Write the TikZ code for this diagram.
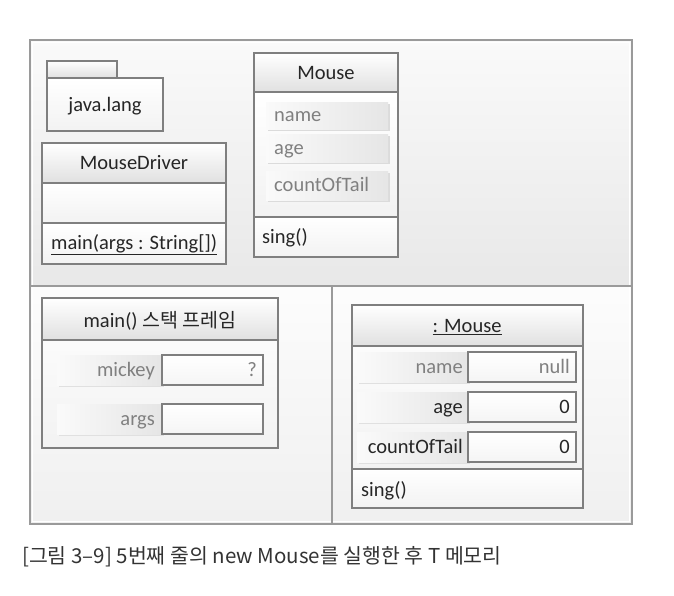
\documentclass[tikz,border=0pt]{standalone}
\usepackage{fontspec}
\setmainfont{Carlito}
\newfontfamily\kr{Noto Sans CJK KR}
\usetikzlibrary{positioning}
\definecolor{edge}{HTML}{7F7F7F}
\definecolor{frameedge}{HTML}{9A9A9A}
\definecolor{lbl}{HTML}{808080}
\definecolor{txt}{HTML}{262626}
\definecolor{cap}{HTML}{333333}
\tikzset{
  umltext/.style={inner sep=0pt, text=txt, font=\fontsize{20.5}{24}\selectfont},
  graytext/.style={umltext, text=lbl},
  boxline/.style={draw=edge, line width=1.1pt},
  headfill/.style={top color=white, bottom color=black!12},
  bodyfill/.style={top color=white, bottom color=black!5},
  pillfill/.style={left color=black!2, right color=black!10},
  valfill/.style={top color=white, bottom color=black!4},
}
\begin{document}
\begin{tikzpicture}[x=1pt,y=-1pt]
\useasboundingbox (0,0) rectangle (674,596);
\fill[white] (0,0) rectangle (674,596);
% outer frame sections
\shade[top color=black!2, bottom color=black!9] (30,40) rectangle (632,286);
\shade[top color=black!1, bottom color=black!6] (30,286) rectangle (332,524);
\shade[top color=black!1, bottom color=black!6] (332,286) rectangle (632,524);
\draw[white, line width=1pt] (32.5,42.5) rectangle (629.5,521.5);
\draw[frameedge, line width=1.2pt] (30,40) rectangle (632,524);
\draw[frameedge, line width=1.2pt] (30,286) -- (632,286);
\draw[frameedge, line width=1.2pt] (332,286) -- (332,524);

% java.lang package
\path[boxline, headfill] (47,61) rectangle (117,78);
\path[boxline, bodyfill] (47,78) rectangle (163,131);
\node[umltext, anchor=base] (javalang) at (105,112) {java.lang};

% MouseDriver class
\path[boxline, headfill] (42,143) rectangle (226,183);
\path[boxline, bodyfill] (42,183) rectangle (226,223);
\path[boxline, bodyfill] (42,223) rectangle (226,264);
\node[umltext, anchor=base] (mdname) at (134,170) {MouseDriver};
\node[umltext, anchor=base west] (mdmain) at (51,249) {\underline{main(args : String[])}};

% Mouse class
\path[boxline, headfill] (254,53) rectangle (398,92);
\path[boxline, bodyfill] (254,92) rectangle (398,217);
\path[boxline, bodyfill] (254,217) rectangle (398,257);
\node[umltext, anchor=base] (mname) at (326,79.5) {Mouse};
\foreach \ya/\yb/\t/\n in {103/130/name/ma, 135/163/age/mb, 172/200/countOfTail/mc}{
  \fill[black!14] (267.5,\ya+1.5) rectangle (389.5,\yb+1.5);
  \path[pillfill] (266,\ya) rectangle (388,\yb);
  \node[graytext, anchor=base west] (\n) at (274,{(\ya+\yb)/2+5.5}) {\t};
}
\node[umltext, anchor=base west] (msing) at (262,243) {sing()};

% main() stack frame
\path[boxline, bodyfill] (42,298) rectangle (278,448);
\path[boxline, headfill] (42,298) rectangle (278,340);
\node[umltext, anchor=base] (stackname) at (160,327) {main() {\kr\fontsize{19.5}{24}\selectfont 스택 프레임}};
\foreach \ya/\yb/\t/\v/\n in {355/385/mickey/?/sa, 404/434/args//sb}{
  \fill[black!12] (58.5,\ya+1.5) rectangle (163.5,\yb+1.5);
  \path[pillfill] (57,\ya) rectangle (162,\yb);
  \path[boxline, valfill] (162,\ya) rectangle (263,\yb);
  \node[graytext, anchor=base east] (\n l) at (155,{(\ya+\yb)/2+6}) {\t};
  \node[graytext, anchor=base east] (\n v) at (257,{(\ya+\yb)/2+6}) {\v};
}

% :Mouse object
\path[boxline, bodyfill] (352,305) rectangle (583,469);
\path[boxline, headfill] (352,305) rectangle (583,346);
\path[boxline, bodyfill] (352,469) rectangle (583,508);
\node[umltext, anchor=base] (objname) at (467,332.5) {\underline{: Mouse}};
\foreach \ya/\yb/\t/\v/\st/\n in {352/382/name/null/graytext/oa, 392/422/age/0/umltext/ob, 432/462/countOfTail/0/umltext/oc}{
  \fill[black!12] (358.5,\ya+1.5) rectangle (469.5,\yb+1.5);
  \path[pillfill] (357,\ya) rectangle (468,\yb);
  \path[boxline, valfill] (468,\ya) rectangle (576,\yb);
  \node[\st, anchor=base east] (\n l) at (463,{(\ya+\yb)/2+6}) {\t};
  \node[\st, anchor=base east] (\n v) at (570,{(\ya+\yb)/2+6}) {\v};
}
\node[umltext, anchor=base west] (osing) at (361,496) {sing()};

% caption
\node[inner sep=0pt, anchor=base west, text=cap, font=\kr\fontsize{20.5}{24}\selectfont] (caption) at (22,563) {[그림 3–9] 5번째 줄의 new Mouse를 실행한 후 T 메모리};
\end{tikzpicture}
\end{document}
